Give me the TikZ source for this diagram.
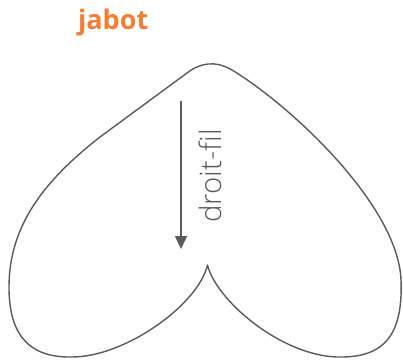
\documentclass[tikz,border=0pt]{standalone}
\usepackage{fontspec}
\IfFontExistsTF{Open Sans}{\setmainfont{Open Sans}}{\setmainfont{Fira Sans}}
\IfFontExistsTF{Open Sans Light}{\newfontfamily\lightfont[Ligatures=NoCommon]{Open Sans Light}}{\newfontfamily\lightfont[Ligatures=NoCommon]{Open Sans}}
\usetikzlibrary{arrows.meta}
\definecolor{stroke}{HTML}{5A5A5A}
\definecolor{accent}{HTML}{F47D32}
\tikzset{
  outline/.style={draw=stroke, line width=1.4pt, line join=round},
  grainarrow/.style={draw=stroke, line width=1.6pt, -{Triangle[width=12pt,length=13pt]}},
  titletext/.style={text=accent, font=\fontsize{27}{31}\selectfont\bfseries, inner sep=0pt},
  labeltext/.style={text=stroke, font=\lightfont\fontsize{29.5}{33}\selectfont, inner sep=0pt, rotate=90}
}
\begin{document}
\begin{tikzpicture}[x=1pt,y=-1pt]
\useasboundingbox (0,0) rectangle (403,359);
\node[titletext, anchor=base west] (title) at (78,29) {jabot};
\draw[outline] (207.5,265)
  .. controls (198,305) and (125,357) .. (72,357)
  .. controls (25,358) and (9,330) .. (9,287)
  .. controls (9,225) and (45,180) .. (100,137)
  -- (187,73)
  .. controls (200,63) and (215,60) .. (232,70)
  .. controls (290,105) and (398,205) .. (401,280)
  .. controls (403.4,340) and (380,358) .. (337,357)
  .. controls (280,355) and (216,300) .. (207.5,265) -- cycle;
\coordinate (a1) at (181,101);
\coordinate (a2) at (181,249);
\draw[grainarrow] (a1) -- (a2);
\node[labeltext] (lab) at (210,176) {droit-fil};
\end{tikzpicture}
\end{document}
